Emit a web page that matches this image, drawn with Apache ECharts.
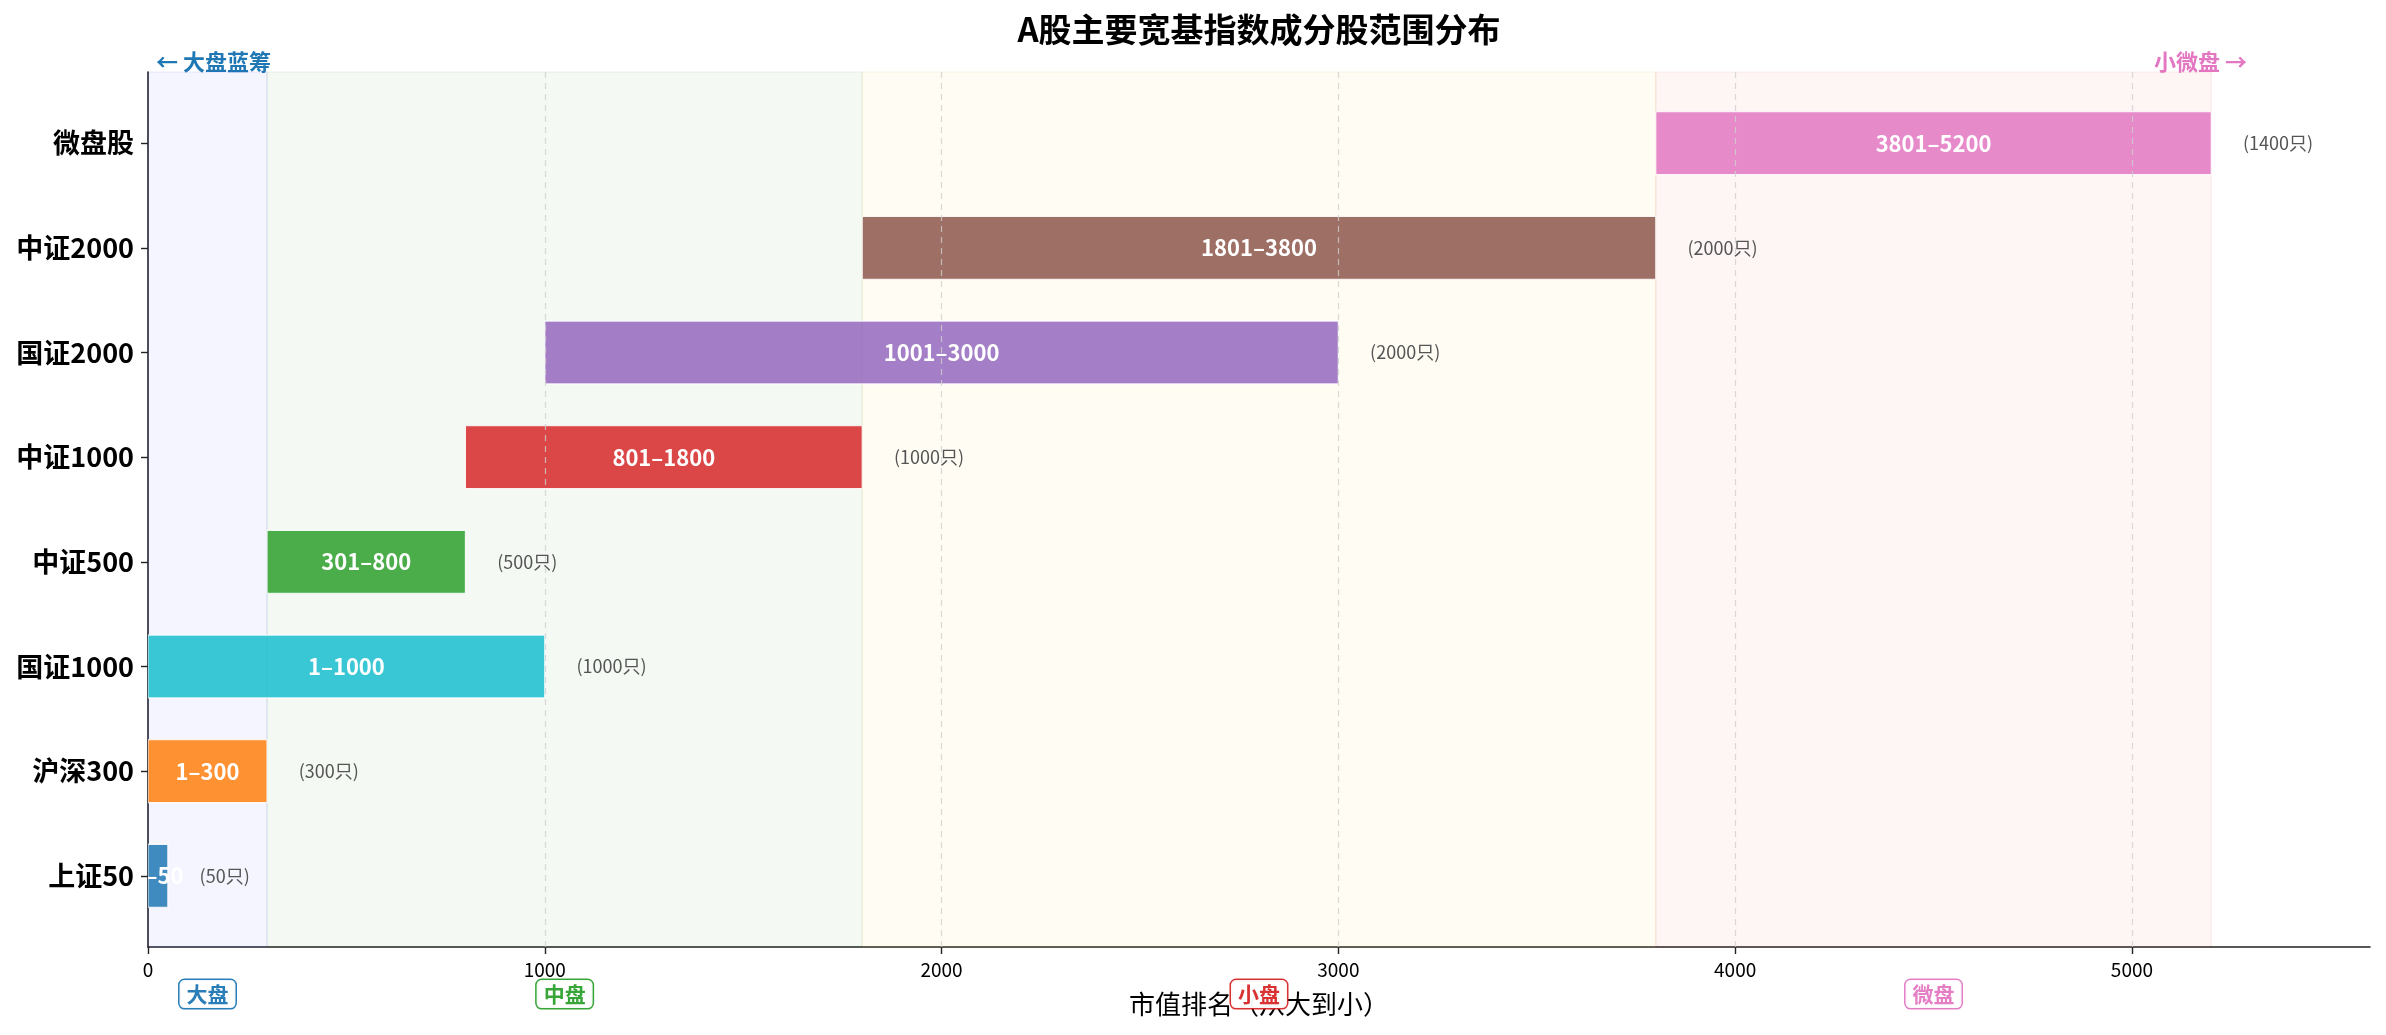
<!DOCTYPE html>
<html>
<head>
<meta charset="utf-8">
<script src="https://cdn.jsdelivr.net/npm/echarts@6/dist/echarts.min.js"></script>
<style>
html, body { margin: 0; padding: 0; background: #fff; }
#main { width: 2386px; height: 1035px; }
</style>
</head>
<body>
<div id="main"></div>
<script>
// index ranks (by market cap, large to small)
const indexNames = ['上证50', '沪深300', '国证1000', '中证500', '中证1000', '国证2000', '中证2000', '微盘股'];
const rankStart = [1, 1, 1, 301, 801, 1001, 1801, 3801];
const rankEnd = [50, 300, 1000, 800, 1800, 3000, 3800, 5200];
const barColors = ['#1f77b4', '#ff7f0e', '#17becf', '#2ca02c', '#d62728', '#9467bd', '#8c564b', '#e377c2'];
const xTicks = [0, 1000, 2000, 3000, 4000, 5000];
const yTicks = [0, 1, 2, 3, 4, 5, 6, 7];

// size zones
const zoneNames = ['大盘', '中盘', '小盘', '微盘'];
const zoneFrom = [0, 300, 1800, 3800];
const zoneTo = [300, 1800, 3800, 5200];
const zoneColors = ['#1f77b4', '#2ca02c', '#d62728', '#e377c2'];
const zoneFill = ['rgba(70,70,250,0.055)', 'rgba(44,140,44,0.05)', 'rgba(255,200,60,0.06)', 'rgba(235,50,50,0.05)'];
const zoneEdge = ['rgba(70,70,250,0.10)', 'rgba(44,140,44,0.08)', 'rgba(230,170,40,0.10)', 'rgba(235,50,50,0.08)'];

const FONT = '"Noto Sans CJK SC", "Noto Sans", sans-serif';

var chartDom = document.getElementById('main');
var myChart = echarts.init(chartDom);

function renderBar(params, api) {
    const i = api.value(0);
    const s = api.value(1);
    const e = api.value(2);
    const p0 = api.coord([s - 1, i]);
    const p1 = api.coord([e, i]);
    const h = api.size([0, 0.6])[1];
    const mid = api.coord([(s - 1 + e) / 2, i]);
    const tag = api.coord([e + 80, i]);
    return {
        type: 'group',
        children: [
            {
                type: 'rect',
                shape: { x: p0[0], y: p0[1] - h / 2, width: p1[0] - p0[0], height: h },
                style: { fill: barColors[i], opacity: 0.85, stroke: '#ffffff', lineWidth: 1.2 }
            },
            {
                type: 'text',
                x: mid[0], y: mid[1],
                style: {
                    text: s + '–' + e, fill: '#fff',
                    font: 'bold 22px ' + FONT,
                    align: 'center', verticalAlign: 'middle'
                }
            },
            {
                type: 'text',
                x: tag[0], y: tag[1],
                style: {
                    text: '(' + (e - s + 1) + '只)', fill: '#555',
                    font: '18px ' + FONT,
                    align: 'left', verticalAlign: 'middle'
                }
            }
        ]
    };
}

var option = {
    backgroundColor: '#fff',
    animation: false,
    textStyle: { fontFamily: FONT },
    grid: { left: 148, right: 16, top: 72, bottom: 88 },
    xAxis: {
        type: 'value',
        min: 0,
        max: 5600,
        interval: 1000,
        name: '市值排名（从大到小）',
        nameLocation: 'middle',
        nameGap: 44,
        nameTextStyle: { fontSize: 26, color: '#000' },
        axisLine: { show: true, onZero: false, lineStyle: { color: '#222', width: 1.6 } },
        axisTick: { show: true, length: 7, lineStyle: { color: '#222', width: 1.4 }, customValues: xTicks },
        axisLabel: { fontSize: 19, color: '#000', margin: 13, customValues: xTicks, formatter: v => String(v) },
        splitLine: { show: false }
    },
    yAxis: {
        type: 'value',
        min: -0.68,
        max: 7.68,
        axisLine: { show: true, onZero: false, lineStyle: { color: '#222', width: 1.6 } },
        axisTick: { show: true, length: 7, lineStyle: { color: '#222', width: 1.4 }, customValues: yTicks },
        axisLabel: {
            fontSize: 27, fontWeight: 'bold', color: '#000', margin: 14,
            customValues: yTicks,
            formatter: v => indexNames[v]
        },
        splitLine: { show: false }
    },
    series: [
        {
            name: 'ranges',
            type: 'custom',
            renderItem: renderBar,
            clip: true,
            z: 2,
            encode: { x: [1, 2], y: 0 },
            data: indexNames.map((n, i) => [i, rankStart[i], rankEnd[i]])
        },
        {
            name: 'zones',
            type: 'line',
            data: [],
            z: 5,
            silent: true,
            markArea: {
                silent: true,
                data: zoneNames.map((n, k) => [
                    { xAxis: zoneFrom[k], itemStyle: { color: zoneFill[k], borderColor: zoneEdge[k], borderWidth: 1.2 } },
                    { xAxis: zoneTo[k] }
                ])
            },
            markLine: {
                silent: true,
                symbol: ['none', 'none'],
                label: { show: false },
                lineStyle: { type: [6, 5], color: '#cfcfcf', width: 1.2, opacity: 0.8 },
                data: xTicks.filter(v => v > 0).map(v => ({ xAxis: v }))
            }
        }
    ]
};

myChart.setOption(option);

// texts placed through the axes' own scales
const px = (x, y) => myChart.convertToPixel({ gridIndex: 0 }, [x, y]);
const graphics = [];
graphics.push({
    type: 'text',
    x: px(2800, 0)[0], y: 29,
    style: {
        text: 'A股主要宽基指数成分股范围分布', fill: '#000',
        font: 'bold 33px ' + FONT, align: 'center', verticalAlign: 'middle'
    }
});
const pL = px(20, 7.78);
graphics.push({
    type: 'text', x: pL[0], y: pL[1],
    style: { text: '← 大盘蓝筹', fill: '#1f77b4', font: 'bold 22px ' + FONT, align: 'left', verticalAlign: 'middle' }
});
const pR = px(5290, 7.78);
graphics.push({
    type: 'text', x: pR[0], y: pR[1],
    style: { text: '小微盘 →', fill: '#e377c2', font: 'bold 22px ' + FONT, align: 'right', verticalAlign: 'middle' }
});
zoneNames.forEach((n, k) => {
    const p = px((zoneFrom[k] + zoneTo[k]) / 2, -1.13);
    graphics.push({
        type: 'text', x: p[0], y: p[1], z: 100,
        style: {
            text: n, fill: zoneColors[k], font: 'bold 21px ' + FONT,
            align: 'center', verticalAlign: 'middle',
            backgroundColor: '#fff', borderColor: zoneColors[k], borderWidth: 1.5,
            borderRadius: 5, padding: [4, 7, 3, 7], opacity: 0.95
        }
    });
});
myChart.setOption({ graphic: graphics });
</script>
</body>
</html>
